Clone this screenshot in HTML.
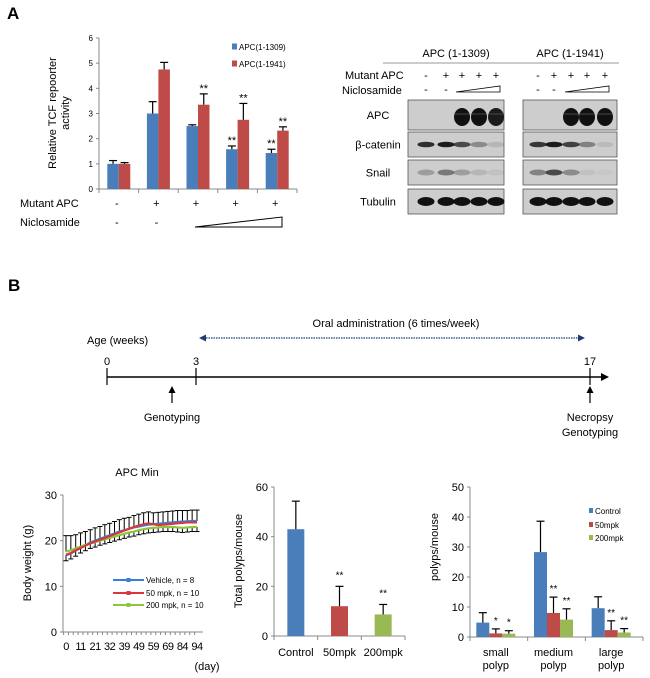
<!DOCTYPE html>
<html><head><meta charset="utf-8">
<style>
html,body{margin:0;padding:0;background:#fff;}
svg{display:block;font-family:"Liberation Sans",Arial,sans-serif;}
</style></head>
<body>
<svg id="fig" width="650" height="678" viewBox="0 0 650 678">
<text x="7" y="19" font-size="17" font-weight="bold">A</text>
<text x="8" y="291" font-size="17" font-weight="bold">B</text>
<g id="tcf"></g>
<g id="blot"></g>
<g id="timeline"></g>
<g id="bw"></g>
<g id="tp"></g>
<g id="ps"></g>
</svg>
<script>
// ---- Chart A data ----
const tcfGroups = ["g1","g2","g3","g4","g5"];
const tcfBlue = [1.0, 3.0, 2.5, 1.58, 1.43];
const tcfBlueErr = [0.13, 0.47, 0.05, 0.13, 0.15];
const tcfRed = [1.0, 4.75, 3.35, 2.75, 2.32];
const tcfRedErr = [0.05, 0.28, 0.43, 0.65, 0.15];
const tcfBlueStars = ["", "", "", "**", "**"];
const tcfRedStars = ["", "", "**", "**", "**"];
const tcfTicks = [0,1,2,3,4,5,6];
const mutantSigns = ["-","+","+","+","+"];
// ---- Body weight data ----
const bwDays = [0,4,7,11,14,18,21,25,28,32,35,37,39,42,46,49,53,56,59,63,66,69,74,79,84,88,91,94];
const bwVehicle = [16.8,17.2,17.8,18.4,19.0,19.6,20.0,20.4,20.8,21.2,21.6,22.0,22.3,22.6,22.9,23.1,23.3,23.5,23.6,23.7,23.8,23.9,24.0,24.1,24.2,24.2,24.3,24.3];
const bw50 = [16.9,17.3,17.9,18.4,18.9,19.4,19.8,20.2,20.6,21.0,21.4,21.8,22.2,22.6,23.0,23.3,23.6,23.8,23.6,23.4,23.5,23.6,23.7,23.8,23.9,24.0,24.0,24.0];
const bw200 = [17.6,17.9,18.3,18.7,19.1,19.4,19.7,20.0,20.3,20.6,20.9,21.2,21.5,21.8,22.0,22.3,22.5,22.7,22.8,22.9,23.0,23.0,23.0,22.9,22.8,22.9,23.0,23.0];
const bwErrUp = [3.5,3.2,3.0,3.0,2.9,2.8,2.8,2.7,2.7,2.6,2.6,2.6,2.6,2.5,2.5,2.5,2.5,2.5,2.5,2.5,2.5,2.5,2.5,2.5,2.4,2.4,2.4,2.4];
const bwErrDown = [1.2,1.2,1.2,1.1,1.1,1.1,1.1,1.0,1.0,1.0,1.0,1.0,1.0,1.0,1.0,1.0,1.0,1.0,1.0,1.0,1.0,1.0,1.0,1.0,1.0,1.0,1.0,1.0];
const bwTicks = [0,10,20,30];
// ---- Total polyps ----
const tpCats = ["Control","50mpk","200mpk"];
const tpVals = [43, 12, 8.7];
const tpErr = [11.3, 8, 4];
const tpStars = ["", "**", "**"];
const tpTicks = [0,20,40,60];
// ---- Polyp size ----
const psCats = [["small","polyp"],["medium","polyp"],["large","polyp"]];
const psControl = [4.8, 28.3, 9.6];
const psControlErr = [3.3, 10.3, 3.8];
const ps50 = [1.2, 8.0, 2.3];
const ps50Err = [1.5, 5.3, 3.1];
const ps200 = [1.1, 5.8, 1.5];
const ps200Err = [1.0, 3.6, 1.3];
const ps50Stars = ["*","**","**"];
const ps200Stars = ["*","**","**"];
const psTicks = [0,10,20,30,40,50];

const NS="http://www.w3.org/2000/svg";
function mk(parent, tag, attrs, txt){
  const e=document.createElementNS(NS,tag);
  for(const k in attrs) e.setAttribute(k,attrs[k]);
  if(txt!==undefined) e.textContent=txt;
  parent.appendChild(e); return e;
}
const BLUE="#4a7ebb", RED="#be4b48", GREEN="#98b954";

// ===== Chart A =====
(function(){
  const g=document.getElementById('tcf');
  const x0=99,x1=297,y0=189,yTop=38,max=6;
  const y=v=>y0-(v/max)*(y0-yTop);
  const gw=(x1-x0)/tcfGroups.length;
  const cx=i=>x0+gw*(i+0.5);
  let l=mk(g,'line',{x1:x0,y1:yTop,x2:x0,y2:y0,stroke:'#888'});
   
  l=mk(g,'line',{x1:x0,y1:y0,x2:x1,y2:y0,stroke:'#888'});
   
  tcfTicks.forEach(t=>{
    mk(g,'line',{x1:x0-3,y1:y(t),x2:x0,y2:y(t),stroke:'#888'});
    const tx=mk(g,'text',{x:x0-6,y:y(t)+3,'font-size':8,'text-anchor':'end'},t);
     
  });
  for(let i=0;i<=tcfGroups.length;i++) mk(g,'line',{x1:x0+gw*i,y1:y0,x2:x0+gw*i,y2:y0+4,stroke:'#888'});
  const bw=11.5;
  tcfGroups.forEach((c,i)=>{
    [[tcfBlue,tcfBlueErr,BLUE,-bw,tcfBlueStars,'blue'],[tcfRed,tcfRedErr,RED,0,tcfRedStars,'red']].forEach(s=>{
      const v=s[0][i],e=s[1][i],bx=cx(i)+s[3];
      const r=mk(g,'rect',{x:bx,y:y(v),width:bw,height:y0-y(v),fill:s[2]});
       
      mk(g,'line',{x1:bx+bw/2,y1:y(v),x2:bx+bw/2,y2:y(v+e),stroke:'#000','stroke-width':1.2});
      mk(g,'line',{x1:bx+bw/2-4,y1:y(v+e),x2:bx+bw/2+4,y2:y(v+e),stroke:'#000','stroke-width':1.2});
      if(s[4][i]){const st=mk(g,'text',{x:bx+bw/2,y:y(v+e)-2,'font-size':11,'text-anchor':'middle'},s[4][i]);
         }
    });
    const ms=mk(g,'text',{x:cx(i)-2,y:207,'font-size':11,'text-anchor':'middle'},mutantSigns[i]);
     
  });
  const yl=mk(g,'text',{transform:'translate(56,113) rotate(-90)','font-size':11,'text-anchor':'middle'},'Relative TCF repoorter');
   
  mk(g,'text',{transform:'translate(69,113) rotate(-90)','font-size':11,'text-anchor':'middle'},'activity');
  [['APC(1-1309)',BLUE,47],['APC(1-1941)',RED,64]].forEach(L=>{
    const r=mk(g,'rect',{x:232,y:L[2]-3.5,width:5,height:6,fill:L[1]});
     
    const t=mk(g,'text',{x:239,y:L[2]+3,'font-size':8},L[0]);
     
  });
  mk(g,'text',{x:20,y:207,'font-size':11},'Mutant APC');
  mk(g,'text',{x:20,y:226,'font-size':11},'Niclosamide');
  mk(g,'text',{x:cx(0)-2,y:226,'font-size':11,'text-anchor':'middle'},'-');
  mk(g,'text',{x:cx(1)-2,y:226,'font-size':11,'text-anchor':'middle'},'-');
  const tri=mk(g,'polygon',{points:'195,227 282,217 282,227',fill:'#fff',stroke:'#000','stroke-width':1});
   
})();

// ===== Western blot =====
(function(){
  const g=document.getElementById('blot');
  const panels=[{x:408,w:96,title:'APC (1-1309)',lanes:[426,446,462,479,496]},{x:523,w:94,title:'APC (1-1941)',lanes:[538,554,571,587,605]}];
  const rows=[['APC',100,30],['β-catenin',132,25],['Snail',160,25],['Tubulin',189,25]];
  const bands={
    'APC':[[0,0],[0,0],[1,1],[1,1],[0.95,1]],
    'β-catenin':[[0.85,0.8],[0.95,0.95],[0.7,0.75],[0.35,0.4],[0.12,0.1]],
    'Snail':[[0.25,0.4],[0.45,0.7],[0.25,0.35],[0.12,0.06],[0.06,0.03]],
    'Tubulin':[[1,1],[1,1],[1,1],[1,1],[1,1]]
  };
  mk(g,'text',{x:345,y:79,'font-size':11},'Mutant APC');
  mk(g,'text',{x:342,y:94,'font-size':11},'Niclosamide');
  rows.forEach(r=>{
    const t=mk(g,'text',{x:378,y:r[1]+r[2]/2+4,'font-size':11,'text-anchor':'middle'},r[0]);
     
  });
  panels.forEach((p,pi)=>{
    mk(g,'text',{x:p.x+p.w/2,y:57,'font-size':11,'text-anchor':'middle'},p.title);
    mk(g,'line',{x1:p.x-25,y1:63,x2:p.x+p.w+2,y2:63,stroke:'#999'});
    ['-','+','+','+','+'].forEach((s,i)=>mk(g,'text',{x:p.lanes[i],y:79,'font-size':11,'text-anchor':'middle'},s));
    mk(g,'text',{x:p.lanes[0],y:93,'font-size':11,'text-anchor':'middle'},'-');
    mk(g,'text',{x:p.lanes[1],y:93,'font-size':11,'text-anchor':'middle'},'-');
    mk(g,'polygon',{points:`${p.lanes[2]-6},92 ${p.lanes[4]+4},86 ${p.lanes[4]+4},92`,fill:'#fff',stroke:'#000','stroke-width':0.8});
    rows.forEach(r=>{
      const bx=mk(g,'rect',{x:p.x,y:r[1],width:p.w,height:r[2],fill:'#cdcdcd',stroke:'#555','stroke-width':0.8});
       
      p.lanes.forEach((lx,i)=>{
        const a=bands[r[0]][i][pi];
        if(a<=0) return;
        const cy=r[1]+r[2]/2;
        if(r[0]==='APC'){
          mk(g,'ellipse',{cx:lx,cy:cy+2,rx:8,ry:9,fill:'#111','fill-opacity':a});
          mk(g,'line',{x1:lx-7,y1:cy-1,x2:lx+7,y2:cy-1,stroke:'#555','stroke-width':0.8});
        } else {
          const h=r[0]==='Tubulin'?4.5:(r[0]==='Snail'?3:2.8);
          mk(g,'ellipse',{cx:lx,cy:cy,rx:8.5,ry:h,fill:'#111','fill-opacity':a});
        }
      });
    });
  });
})();

// ===== Timeline =====
(function(){
  const g=document.getElementById('timeline');
  mk(g,'text',{x:396,y:327,'font-size':11,'text-anchor':'middle'},'Oral administration (6 times/week)');
  mk(g,'text',{x:87,y:344,'font-size':11},'Age (weeks)');
  const d=mk(g,'line',{x1:206,y1:338,x2:578,y2:338,stroke:'#1f3b73','stroke-width':1.2,'stroke-dasharray':'1.5,1'});
   
  mk(g,'polygon',{points:'199,338 206,334.5 206,341.5',fill:'#1f3b73'});
  mk(g,'polygon',{points:'585,338 578,334.5 578,341.5',fill:'#1f3b73'});
  const tl=mk(g,'line',{x1:107,y1:377,x2:602,y2:377,stroke:'#000','stroke-width':1.5});
   
  mk(g,'polygon',{points:'609,377 601,373 601,381',fill:'#000'});
  [[107,'0'],[196,'3'],[590,'17']].forEach(t=>{
    mk(g,'line',{x1:t[0],y1:368,x2:t[0],y2:385,stroke:'#000','stroke-width':1.2});
    mk(g,'text',{x:t[0],y:365,'font-size':11,'text-anchor':'middle'},t[1]);
  });
  [[172],[590]].forEach(a=>{
    mk(g,'line',{x1:a[0],y1:403,x2:a[0],y2:392,stroke:'#000','stroke-width':1.2});
    mk(g,'polygon',{points:`${a[0]},386 ${a[0]-3.5},393 ${a[0]+3.5},393`,fill:'#000'});
  });
  mk(g,'text',{x:172,y:421,'font-size':11,'text-anchor':'middle'},'Genotyping');
  mk(g,'text',{x:590,y:421,'font-size':11,'text-anchor':'middle'},'Necropsy');
  mk(g,'text',{x:590,y:436,'font-size':11,'text-anchor':'middle'},'Genotyping');
})();

// ===== Body weight =====
(function(){
  const g=document.getElementById('bw');
  const x0=63,x1=203,y0=632,yTop=495,max=30;
  const y=v=>y0-(v/max)*(y0-yTop);
  const n=bwDays.length, step=(197-66)/(n-1);
  const x=i=>66+i*step;
  mk(g,'text',{x:137,y:476,'font-size':11,'text-anchor':'middle'},'APC Min');
  mk(g,'line',{x1:x0,y1:yTop,x2:x0,y2:y0,stroke:'#888'});
  mk(g,'line',{x1:x0,y1:y0,x2:x1,y2:y0,stroke:'#888'});
  bwTicks.forEach(t=>{
    mk(g,'line',{x1:x0-3,y1:y(t),x2:x0,y2:y(t),stroke:'#888'});
    const tx=mk(g,'text',{x:x0-6,y:y(t)+4,'font-size':11,'text-anchor':'end'},t);
     
  });
  bwDays.forEach((d,i)=>{
    mk(g,'line',{x1:x(i)-step/2,y1:y0,x2:x(i)-step/2,y2:y0+3,stroke:'#888'});
    if(i%3===0){const t=mk(g,'text',{x:x(i),y:650,'font-size':11,'text-anchor':'middle','letter-spacing':'-0.5'},d);
       }
  });
  bwDays.forEach((d,i)=>{
    const top=Math.max(bwVehicle[i],bw50[i],bw200[i]);
    mk(g,'line',{x1:x(i),y1:y(top),x2:x(i),y2:y(top+bwErrUp[i]),stroke:'#000','stroke-width':1});
    mk(g,'line',{x1:x(i)-2.5,y1:y(top+bwErrUp[i]),x2:x(i)+2.5,y2:y(top+bwErrUp[i]),stroke:'#000','stroke-width':1});
    const bot=Math.min(bwVehicle[i],bw50[i],bw200[i]);
    mk(g,'line',{x1:x(i),y1:y(bot),x2:x(i),y2:y(bot-bwErrDown[i]),stroke:'#000','stroke-width':1});
    mk(g,'line',{x1:x(i)-2.5,y1:y(bot-bwErrDown[i]),x2:x(i)+2.5,y2:y(bot-bwErrDown[i]),stroke:'#000','stroke-width':1});
  });
  [[bwVehicle,'#3a7fd5','vehicle'],[bw200,'#8cc63f','200mpk'],[bw50,'#d9363e','50mpk']].forEach(s=>{
    const p=mk(g,'polyline',{points:s[0].map((v,i)=>x(i)+','+y(v)).join(' '),fill:'none',stroke:s[1],'stroke-width':2.2});
     
  });
  [['Vehicle, n = 8','#3a7fd5',580],['50 mpk, n = 10','#d9363e',593],['200 mpk, n = 10','#8cc63f',605]].forEach(L=>{
    mk(g,'line',{x1:113,y1:L[2],x2:144,y2:L[2],stroke:L[1],'stroke-width':2});
    mk(g,'rect',{x:126.5,y:L[2]-2,width:4,height:4,fill:L[1]});
    const t=mk(g,'text',{x:146,y:L[2]+3,'font-size':8},L[0]);
     
  });
  const yl=mk(g,'text',{transform:'translate(31,563) rotate(-90)','font-size':11,'text-anchor':'middle'},'Body weight (g)');
   
  mk(g,'text',{x:207,y:670,'font-size':11,'text-anchor':'middle'},'(day)');
})();

// ===== Total polyps =====
(function(){
  const g=document.getElementById('tp');
  const x0=274,x1=405,y0=636,yTop=487,max=60;
  const y=v=>y0-(v/max)*(y0-yTop);
  const gw=(x1-x0)/tpCats.length, cx=i=>x0+gw*(i+0.5);
  const cols=[BLUE,RED,GREEN];
  mk(g,'line',{x1:x0,y1:yTop,x2:x0,y2:y0,stroke:'#888'});
  mk(g,'line',{x1:x0,y1:y0,x2:x1,y2:y0,stroke:'#888'});
  tpTicks.forEach(t=>{
    mk(g,'line',{x1:x0-3,y1:y(t),x2:x0,y2:y(t),stroke:'#888'});
    mk(g,'text',{x:x0-6,y:y(t)+4,'font-size':11,'text-anchor':'end'},t);
  });
  for(let i=0;i<=3;i++) mk(g,'line',{x1:x0+gw*i,y1:y0,x2:x0+gw*i,y2:y0+4,stroke:'#888'});
  tpCats.forEach((c,i)=>{
    const v=tpVals[i],e=tpErr[i],bx=cx(i)-8.5;
    const r=mk(g,'rect',{x:bx,y:y(v),width:17,height:y0-y(v),fill:cols[i]});
     
    mk(g,'line',{x1:cx(i),y1:y(v),x2:cx(i),y2:y(v+e),stroke:'#000','stroke-width':1.2});
    mk(g,'line',{x1:cx(i)-4,y1:y(v+e),x2:cx(i)+4,y2:y(v+e),stroke:'#000','stroke-width':1.2});
    if(tpStars[i]) mk(g,'text',{x:cx(i),y:y(v+e)-8,'font-size':10,'text-anchor':'middle'},tpStars[i]);
    const t=mk(g,'text',{x:cx(i),y:656,'font-size':11,'text-anchor':'middle'},c);
     
  });
  const yl=mk(g,'text',{transform:'translate(242,561) rotate(-90)','font-size':11,'text-anchor':'middle'},'Total polyps/mouse');
   
})();

// ===== Polyp size =====
(function(){
  const g=document.getElementById('ps');
  const x0=470,x1=643,y0=637,yTop=487,max=50;
  const y=v=>y0-(v/max)*(y0-yTop);
  const gw=(x1-x0)/psCats.length, cx=i=>x0+gw*(i+0.5)-3;
  mk(g,'line',{x1:x0,y1:yTop,x2:x0,y2:y0,stroke:'#888'});
  mk(g,'line',{x1:x0,y1:y0,x2:x1,y2:y0,stroke:'#888'});
  psTicks.forEach(t=>{
    mk(g,'line',{x1:x0-3,y1:y(t),x2:x0,y2:y(t),stroke:'#888'});
    mk(g,'text',{x:x0-6,y:y(t)+4,'font-size':11,'text-anchor':'end'},t);
  });
  for(let i=0;i<=3;i++) mk(g,'line',{x1:x0+gw*i,y1:y0,x2:x0+gw*i,y2:y0+4,stroke:'#888'});
  const bw=13;
  psCats.forEach((c,i)=>{
    [[psControl,psControlErr,BLUE,-1.5,null,'control'],[ps50,ps50Err,RED,-0.5,ps50Stars,'50mpk'],[ps200,ps200Err,GREEN,0.5,ps200Stars,'200mpk']].forEach(s=>{
      const v=s[0][i],e=s[1][i],bx=cx(i)+s[3]*bw,mx=bx+bw/2;
      const r=mk(g,'rect',{x:bx,y:y(v),width:bw,height:y0-y(v),fill:s[2]});
       
      mk(g,'line',{x1:mx,y1:y(v),x2:mx,y2:y(v+e),stroke:'#000','stroke-width':1.2});
      mk(g,'line',{x1:mx-4,y1:y(v+e),x2:mx+4,y2:y(v+e),stroke:'#000','stroke-width':1.2});
      if(s[4]) mk(g,'text',{x:mx,y:y(v+e)-5,'font-size':10,'text-anchor':'middle'},s[4][i]);
    });
    const t=mk(g,'text',{x:cx(i),y:656,'font-size':11,'text-anchor':'middle'},c[0]);
     
    mk(g,'text',{x:cx(i),y:669,'font-size':11,'text-anchor':'middle'},c[1]);
  });
  [['Control',BLUE,511],['50mpk',RED,525],['200mpk',GREEN,538]].forEach(L=>{
    mk(g,'rect',{x:589,y:L[2]-3,width:4,height:5,fill:L[1]});
    const t=mk(g,'text',{x:595,y:L[2]+3,'font-size':8},L[0]);
     
  });
  const yl=mk(g,'text',{transform:'translate(438,547) rotate(-90)','font-size':11,'text-anchor':'middle'},'polyps/mouse');
   
})();
</script>
</body></html>
